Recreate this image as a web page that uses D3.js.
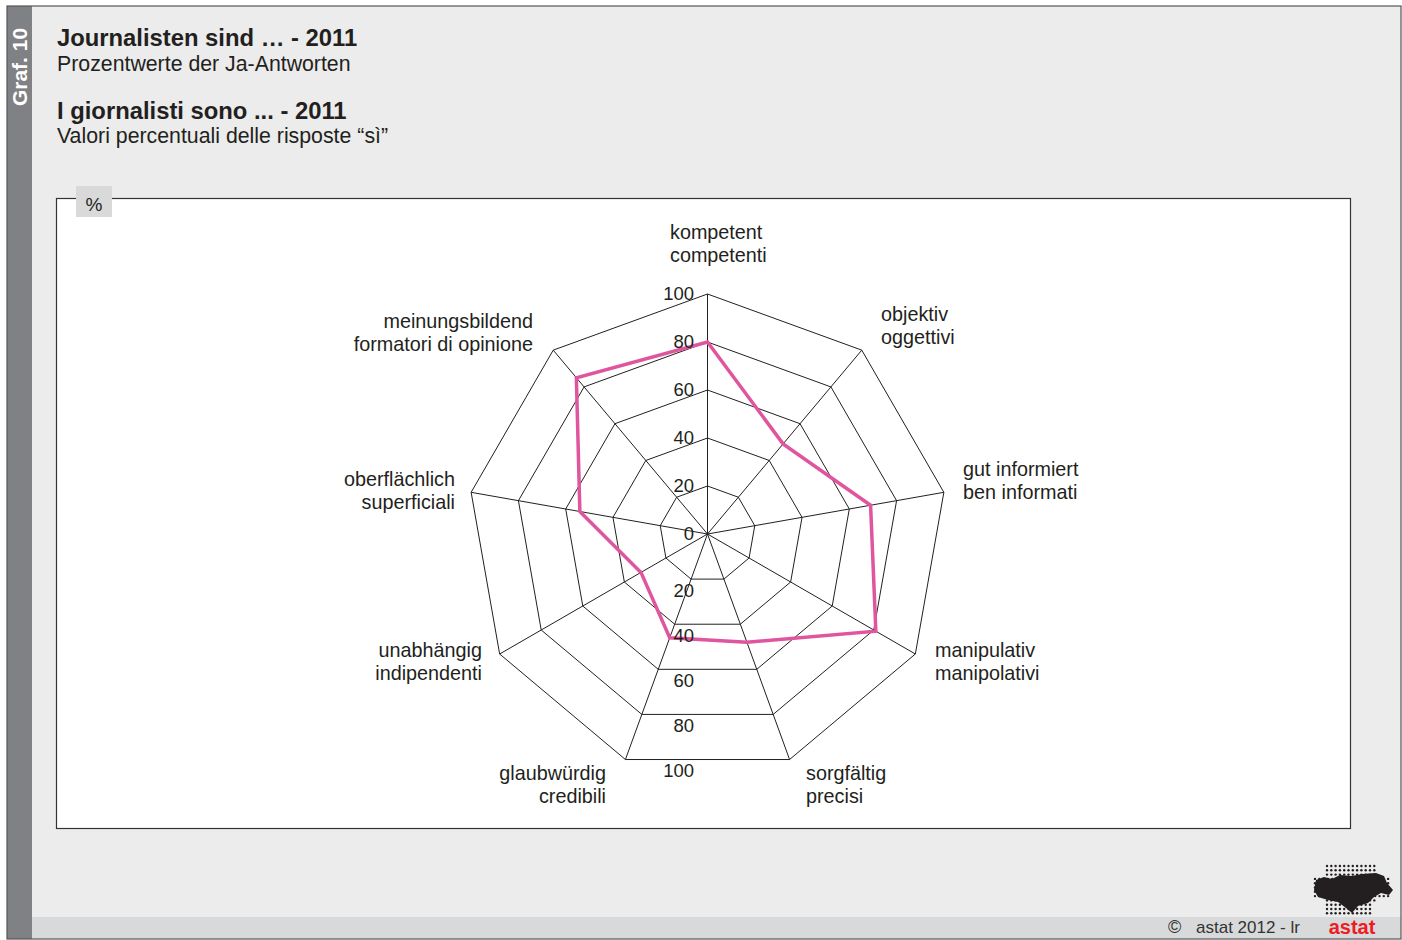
<!DOCTYPE html>
<html><head><meta charset="utf-8">
<script src="https://cdn.jsdelivr.net/npm/d3@7"></script>
<style>
html,body{margin:0;padding:0;background:#fff;}
svg{display:block;font-family:"Liberation Sans",Arial,sans-serif;}
</style></head>
<body>
<svg id="c" width="1402" height="940"></svg>
<script>
// ---- data ----
const categoriesDe = ["kompetent","objektiv","gut informiert","manipulativ","sorgfältig","glaubwürdig","unabhängig","oberflächlich","meinungsbildend"];
const categoriesIt = ["competenti","oggettivi","ben informati","manipolativi","precisi","credibili","indipendenti","superficiali","formatori di opinione"];
const values = [80, 49, 69, 81, 48, 46, 32, 54, 85];
const ticks = [0, 20, 40, 60, 80, 100];
const titleDe = "Journalisten sind … - 2011";
const subtitleDe = "Prozentwerte der Ja-Antworten";
const titleIt = "I giornalisti sono ... - 2011";
const subtitleIt = "Valori percentuali delle risposte “sì”";

const svg = d3.select("#c");
// background
svg.append("rect").attr("x",7).attr("y",6).attr("width",1394).attr("height",933).attr("fill","#ebeceb");
svg.append("rect").attr("x",7).attr("y",6).attr("width",25).attr("height",933).attr("fill","#808184");
svg.append("rect").attr("x",32).attr("y",917).attr("width",1369).attr("height",22).attr("fill","#d8d9da");
svg.append("rect").attr("x",7).attr("y",6).attr("width",1394).attr("height",933).attr("fill","none").attr("stroke","#555").attr("stroke-width",1.2);

svg.append("text").attr("transform","translate(27,67) rotate(-90)").attr("text-anchor","middle")
  .attr("fill","#fff").attr("font-weight","bold").attr("font-size",21).text("Graf. 10");

// titles
svg.append("text").attr("x",57).attr("y",46).attr("font-weight","bold").attr("font-size",23.8).attr("fill","#231f20").text(titleDe);
svg.append("text").attr("x",57).attr("y",71).attr("font-size",21.3).attr("fill","#231f20").text(subtitleDe);
svg.append("text").attr("x",57).attr("y",119).attr("font-weight","bold").attr("font-size",23.8).attr("fill","#231f20").text(titleIt);
svg.append("text").attr("x",57).attr("y",143).attr("font-size",21.3).attr("fill","#231f20").text(subtitleIt);

// plot box
svg.append("rect").attr("x",56.5).attr("y",198.5).attr("width",1294).attr("height",630).attr("fill","#fff").attr("stroke","#333").attr("stroke-width",1.2);
svg.append("rect").attr("x",76).attr("y",186).attr("width",36).attr("height",31).attr("fill","#d9d9d9");
svg.append("text").attr("x",94).attr("y",211).attr("text-anchor","middle").attr("font-size",19).attr("fill","#231f20").text("%");

// radar
const cx = 707.5, cy = 534, R = 240;
const n = categoriesDe.length;
const r = d3.scaleLinear().domain([0,100]).range([0,R]);
const ang = i => i * 2 * Math.PI / n;
const pt = (i, v) => [cx + r(v) * Math.sin(ang(i)), cy - r(v) * Math.cos(ang(i))];
const g = svg.append("g");

// grid polygons
ticks.filter(t => t > 0).forEach(t => {
  g.append("path").attr("d", d3.line()(d3.range(n).map(i => pt(i, t))) + "Z")
    .attr("fill","none").attr("stroke","#231f20").attr("stroke-width",1);
});
// spokes
d3.range(n).forEach(i => {
  const p = pt(i, 100);
  g.append("line").attr("x1",cx).attr("y1",cy).attr("x2",p[0]).attr("y2",p[1])
    .attr("stroke","#231f20").attr("stroke-width",1);
});

// data line
g.append("path").attr("d", d3.line()(values.map((v,i) => pt(i, v))) + "Z")
  .attr("fill","none").attr("stroke","#df559e").attr("stroke-width",3.5).attr("stroke-linejoin","miter");

// tick labels top axis
ticks.forEach(t => {
  g.append("text").attr("x",694).attr("y",cy - r(t)).attr("dy","0.35em").attr("text-anchor","end")
    .attr("font-size",18.5).attr("fill","#231f20").text(t);
});
// tick labels bottom (below edge between axes 4 and 5)
ticks.filter(t => t > 0).forEach(t => {
  const y = (pt(4,t)[1] + pt(5,t)[1]) / 2;
  g.append("text").attr("x",694).attr("y",y + 11).attr("dy","0.35em").attr("text-anchor","end")
    .attr("font-size",18.5).attr("fill","#231f20").text(t);
});

// category labels
const labelPos = [
  {x:670, y:232, a:"start"},
  {x:881, y:314, a:"start"},
  {x:963, y:469, a:"start"},
  {x:935, y:650, a:"start"},
  {x:806, y:773, a:"start"},
  {x:606, y:773, a:"end"},
  {x:482, y:650, a:"end"},
  {x:455, y:479, a:"end"},
  {x:533, y:321, a:"end"}
];
labelPos.forEach((lp, i) => {
  const t = g.append("text").attr("text-anchor", lp.a).attr("font-size",19.8).attr("fill","#231f20");
  t.append("tspan").attr("x",lp.x).attr("y",lp.y).attr("dy","0.35em").text(categoriesDe[i]);
  t.append("tspan").attr("x",lp.x).attr("y",lp.y + 23).attr("dy","0.35em").text(categoriesIt[i]);
});

// footer
svg.append("text").attr("x",1168).attr("y",933).attr("font-size",18).attr("fill","#333").text("©");
svg.append("text").attr("x",1196).attr("y",933).attr("font-size",17).attr("fill","#333").text("astat 2012 - lr");

// logo
const logo = svg.append("g");
for (let row = 0; row < 12; row++) {
  const y = 866 + row * 4.3;
  let x0 = 1327, x1 = 1378;
  if (row >= 3 && row <= 7) { x0 = 1315; x1 = 1392; }
  if (row > 8) { x0 = 1327; x1 = 1370; }
  for (let x = x0; x <= x1; x += 4.3) {
    logo.append("circle").attr("cx",x).attr("cy",y).attr("r",1.2).attr("fill","#231f20");
  }
}
logo.append("path").attr("d","M1316,880 L1324,877 L1332,879 L1340,875 L1352,876 L1362,874 L1376,873 L1384,876 L1387,883 L1393,890 L1389,895 L1381,893 L1374,897 L1368,903 L1358,906 L1352,913 L1346,908 L1338,902 L1328,900 L1318,897 L1314,890 Z")
  .attr("fill","#231f20");
svg.append("text").attr("x",1352).attr("y",934).attr("text-anchor","middle").attr("font-weight","bold")
  .attr("font-size",20).attr("fill","#ec1c24").text("astat");
</script>
</body></html>
